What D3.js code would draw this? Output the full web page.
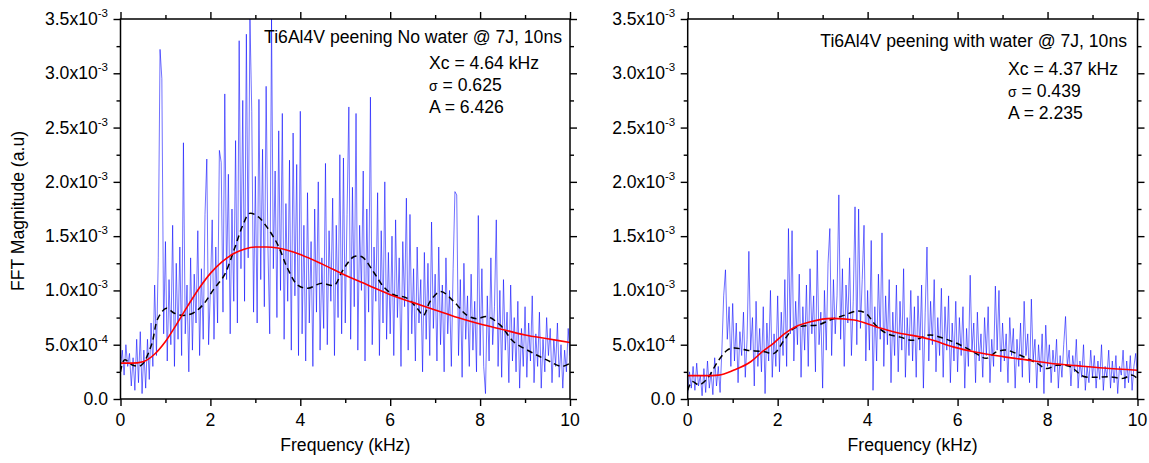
<!DOCTYPE html>
<html><head><meta charset="utf-8">
<script src="https://cdn.jsdelivr.net/npm/d3@7"></script>
<style>body{margin:0;background:#fff} text{font-family:Arial,"Liberation Sans",sans-serif;fill:#000}</style>
</head><body><svg id="c" width="1149" height="463"></svg>
<script>
// FFT magnitudes in units of 1e-3, sampled every freqStep kHz from 0 to 10 kHz
const freqStep = 0.04;
const leftFFT = [
0.30,0.45,0.22,0.50,0.30,0.42,0.12,0.38,0.08,0.55,0.15,0.62,0.05,0.45,0.10,0.55,0.18,0.70,0.30,1.05,0.40,1.30,3.22,2.95,0.60,
1.45,0.35,1.10,0.50,1.60,0.30,1.25,0.55,1.40,0.40,2.36,0.60,1.05,0.25,1.30,0.45,1.15,0.70,1.55,0.40,1.20,0.55,1.70,2.21,0.50,
1.00,1.65,0.55,1.40,0.70,2.29,2.18,0.80,2.81,1.10,2.07,0.60,1.75,0.90,2.38,0.70,3.30,1.20,2.75,0.90,3.36,1.30,3.50,2.65,0.80,
2.05,0.70,2.76,1.10,2.30,0.85,2.88,1.40,0.60,3.50,1.20,2.10,0.75,2.47,1.00,2.63,0.55,1.80,0.90,2.20,0.45,2.45,0.95,2.16,0.40,
2.65,0.60,1.60,0.35,1.90,0.70,1.45,0.30,1.75,0.80,2.00,0.45,1.30,0.65,2.17,0.50,1.55,0.90,1.85,0.40,1.60,0.75,2.25,0.60,2.22,
0.70,1.70,2.69,0.55,1.95,0.85,2.63,0.45,1.60,1.00,2.10,0.35,1.75,0.80,2.78,0.50,1.40,0.90,1.90,0.40,1.55,0.70,2.00,0.55,1.35,
0.60,1.50,0.40,1.65,0.75,1.30,0.30,1.45,0.85,1.85,0.45,1.70,0.60,1.20,0.35,1.40,0.70,1.10,0.25,1.35,0.55,1.25,0.40,1.63,0.65,
1.15,0.35,1.40,0.50,1.05,0.25,1.30,0.60,1.00,0.30,1.20,1.91,1.88,0.40,1.10,0.20,1.25,0.55,0.95,0.30,1.15,0.45,0.90,0.25,1.69,
0.40,1.20,0.30,0.05,0.95,0.35,1.30,0.50,0.85,1.65,0.30,1.00,0.20,1.10,0.45,0.80,0.15,1.05,0.35,0.75,0.25,0.90,0.10,0.65,0.30,
0.85,0.20,0.70,0.35,0.95,0.15,0.60,0.30,0.80,0.10,0.55,0.25,0.75,0.40,0.65,0.15,0.55,0.30,0.70,0.20,0.50,0.10,0.45,0.25,0.65,
0.40];
const rightFFT = [
0.05,0.25,0.10,0.30,0.08,0.33,0.12,0.22,0.03,0.28,0.06,0.35,0.10,0.25,0.04,0.38,0.12,0.30,0.06,0.45,0.95,1.19,0.55,0.85,0.30,
0.88,0.35,0.70,0.15,0.62,0.40,0.80,0.20,0.55,1.36,0.45,0.75,0.12,0.90,0.30,0.65,0.25,0.85,0.05,0.70,0.35,1.00,0.20,0.60,0.30,
0.95,0.25,0.80,0.40,1.10,0.30,1.57,0.60,1.55,0.35,0.90,0.50,1.15,0.20,0.85,0.45,1.05,0.30,1.20,0.60,0.95,0.25,1.37,0.50,0.80,
0.10,1.00,0.45,1.25,1.57,0.40,1.10,0.60,0.95,1.88,0.55,1.20,0.30,1.05,0.70,1.30,0.40,0.90,1.77,0.50,1.75,0.65,1.10,1.60,0.35,
1.00,0.45,1.46,0.08,0.85,0.35,1.15,0.55,1.53,0.30,0.95,0.50,1.10,0.15,0.80,0.40,1.05,0.25,0.90,0.45,1.20,0.20,0.75,0.40,1.00,
0.35,0.85,0.20,0.95,0.45,1.05,0.10,0.80,1.40,0.35,0.90,0.50,1.10,0.25,0.75,0.40,1.02,0.20,0.85,0.45,0.95,0.15,0.70,0.35,0.90,
0.25,0.75,0.40,0.85,0.10,0.65,0.30,1.14,0.45,0.70,0.15,0.80,0.35,0.60,0.20,0.75,0.40,0.85,0.15,0.55,0.30,1.04,0.45,1.00,0.25,
0.70,0.35,0.60,0.15,0.75,0.40,0.65,0.10,0.55,0.30,0.70,0.20,0.90,0.40,0.60,0.15,0.92,0.35,0.55,0.10,0.50,0.25,0.60,0.05,0.68,
0.30,0.50,0.15,0.45,0.25,0.55,0.10,0.40,0.20,0.50,0.76,0.30,0.45,0.12,0.40,0.25,0.55,0.10,0.35,0.20,0.50,0.08,0.30,0.15,0.45,
0.20,0.40,0.10,0.35,0.18,0.50,0.08,0.30,0.20,0.45,0.10,0.35,0.15,0.40,0.05,0.30,0.22,0.45,0.10,0.35,0.15,0.40,0.08,0.30,0.42,
0.20];
// Smoothed (dashed black) curves: frequency (kHz) and magnitude (1e-3)
const leftSmoothX = [0,0.09,0.28,0.46,0.69,0.83,1.02,1.20,1.39,1.61,1.83,2.09,2.31,2.54,2.72,2.87,3.06,3.28,3.50,3.72,3.94,4.17,4.46,4.76,4.91,5.05,5.19,5.37,5.63,5.86,6.08,6.37,6.60,6.74,6.89,7.12,7.41,7.71,7.93,8.15,8.45,8.74,9.12,9.48,9.82,10.0];
const leftSmoothY = [0.25,0.36,0.31,0.31,0.50,0.74,0.835,0.79,0.77,0.79,0.865,1.02,1.14,1.39,1.60,1.71,1.68,1.57,1.42,1.20,1.05,1.02,1.065,1.05,1.16,1.25,1.31,1.31,1.17,1.03,0.96,0.93,0.835,0.77,0.90,0.99,0.90,0.77,0.74,0.76,0.68,0.53,0.435,0.36,0.30,0.33];
const rightSmoothX = [0,0.10,0.25,0.44,0.66,0.88,1.03,1.32,1.70,1.92,2.14,2.36,2.62,2.88,3.18,3.47,3.77,3.96,4.18,4.44,4.73,4.99,5.16,5.38,5.68,6.05,6.35,6.64,6.87,7.09,7.38,7.76,7.98,8.20,8.50,8.79,9.09,9.38,9.68,9.87,10.0];
const rightSmoothY = [0.08,0.16,0.13,0.19,0.34,0.45,0.47,0.45,0.435,0.42,0.54,0.65,0.675,0.68,0.73,0.77,0.81,0.79,0.68,0.60,0.57,0.54,0.56,0.59,0.56,0.50,0.435,0.375,0.435,0.45,0.405,0.33,0.28,0.31,0.30,0.21,0.20,0.205,0.19,0.22,0.19];
// Fit (red) curves: frequency (kHz) and magnitude (1e-3)
const leftFitX = [0,0.25,0.5,0.75,1.0,1.25,1.5,1.75,2.0,2.25,2.5,2.75,3.0,3.25,3.5,3.75,4.0,4.5,5.0,5.5,6.0,6.5,7.0,7.5,8.0,8.5,9.0,9.5,10.0];
const leftFitY = [0.33,0.33,0.344,0.41,0.53,0.69,0.86,1.02,1.157,1.26,1.335,1.38,1.40,1.40,1.39,1.365,1.33,1.24,1.14,1.05,0.96,0.89,0.82,0.75,0.69,0.64,0.59,0.555,0.52];
const rightFitX = [0,0.4,0.69,1.03,1.40,1.66,1.92,2.14,2.40,2.73,3.21,3.70,4.18,4.66,4.99,5.38,5.90,6.42,7.01,7.53,8.05,8.64,9.24,10.0];
const rightFitY = [0.215,0.215,0.22,0.267,0.343,0.436,0.518,0.598,0.666,0.712,0.743,0.727,0.666,0.61,0.586,0.55,0.48,0.43,0.39,0.36,0.33,0.307,0.285,0.265];

const yTickValues = [0,0.5,1.0,1.5,2.0,2.5,3.0,3.5];
const yTickMantissa = ["0.0","5.0x10","1.0x10","1.5x10","2.0x10","2.5x10","3.0x10","3.5x10"];
const yTickExponent = ["","-4","-3","-3","-3","-3","-3","-3"];
const yMinorValues = [0.25,0.75,1.25,1.75,2.25,2.75,3.25];
const xTickValues = [0,2,4,6,8,10];
const xMinorValues = [1,3,5,7,9];
const panelTitles = ["Ti6Al4V peening No water @ 7J, 10ns","Ti6Al4V peening with water @ 7J, 10ns"];
const fitSymbols = [["Xc"," σ","A"],["Xc","σ","A"]];
const fitLabels = [["Xc = 4.64 kHz","σ = 0.625","A = 6.426"],["Xc = 4.37 kHz","σ = 0.439","A = 2.235"]];

const svg = d3.select("#c");
const plotTop = 19, plotBottom = 399;
const panels = [
  {x0:120.5, x1:570, fft:leftFFT, sx:leftSmoothX, sy:leftSmoothY, fx:leftFitX, fy:leftFitY,
   titleX:562, titleY:43, statX:429, statY:[68.5,91,112.5]},
  {x0:687.7, x1:1137.5, fft:rightFFT, sx:rightSmoothX, sy:rightSmoothY, fx:rightFitX, fy:rightFitY,
   titleX:1127, titleY:46.5, statX:1008, statY:[75,96.7,118.5]}
];
const FS = 17.6;

panels.forEach((p, i) => {
  const x = d3.scaleLinear().domain([0,10]).range([p.x0, p.x1]);
  const y = d3.scaleLinear().domain([0,3.5]).range([plotBottom, plotTop]);
  const g = svg.append("g");
  const clipId = "clip" + i;
  svg.append("clipPath").attr("id", clipId).append("rect")
    .attr("x", p.x0).attr("y", plotTop).attr("width", p.x1 - p.x0).attr("height", plotBottom - plotTop);
  const plot = g.append("g").attr("clip-path", `url(#${clipId})`);

  const fftLine = d3.line().x((d, k) => x(k * freqStep)).y(d => y(d));
  plot.append("path").datum(p.fft).attr("d", fftLine)
    .attr("fill","none").attr("stroke","#0000ff").attr("stroke-width",0.8).attr("stroke-opacity",0.7);

  const pairLine = d3.line().x(d => x(d[0])).y(d => y(d[1]));
  plot.append("path").datum(d3.zip(p.sx, p.sy)).attr("d", pairLine.curve(d3.curveCatmullRom.alpha(0.5)))
    .attr("fill","none").attr("stroke","#000").attr("stroke-width",1.5).attr("stroke-dasharray","6,4");
  plot.append("path").datum(d3.zip(p.fx, p.fy)).attr("d", d3.line().x(d => x(d[0])).y(d => y(d[1])).curve(d3.curveMonotoneX))
    .attr("fill","none").attr("stroke","#ff0000").attr("stroke-width",1.6);

  const axStyle = sel => { sel.select(".domain").remove(); sel.selectAll("line").attr("stroke","#000").attr("stroke-width",1.4); sel.selectAll("text").remove(); };
  g.append("g").attr("transform",`translate(0,${plotBottom})`).call(d3.axisBottom(x).tickValues(xTickValues).tickSize(7).tickFormat("")).call(axStyle);
  g.append("g").attr("transform",`translate(0,${plotBottom})`).call(d3.axisBottom(x).tickValues(xMinorValues).tickSize(4).tickFormat("")).call(axStyle);
  g.append("g").attr("transform",`translate(0,${plotTop})`).call(d3.axisTop(x).tickValues(xTickValues).tickSize(7).tickFormat("")).call(axStyle);
  g.append("g").attr("transform",`translate(0,${plotTop})`).call(d3.axisTop(x).tickValues(xMinorValues).tickSize(4).tickFormat("")).call(axStyle);
  g.append("g").attr("transform",`translate(${p.x0},0)`).call(d3.axisLeft(y).tickValues(yTickValues).tickSize(7).tickFormat("")).call(axStyle);
  g.append("g").attr("transform",`translate(${p.x0},0)`).call(d3.axisLeft(y).tickValues(yMinorValues).tickSize(4).tickFormat("")).call(axStyle);
  g.append("g").attr("transform",`translate(${p.x1},0)`).call(d3.axisRight(y).tickValues(yTickValues).tickSize(7).tickFormat("")).call(axStyle);
  g.append("g").attr("transform",`translate(${p.x1},0)`).call(d3.axisRight(y).tickValues(yMinorValues).tickSize(4).tickFormat("")).call(axStyle);
  g.append("rect").attr("x",p.x0).attr("y",plotTop).attr("width",p.x1-p.x0).attr("height",plotBottom-plotTop)
    .attr("fill","none").attr("stroke","#000").attr("stroke-width",1.5);

  xTickValues.forEach(v => {
    g.append("text").attr("x", x(v)).attr("y", 426).attr("text-anchor","middle").attr("font-size",FS).text(v);
  });
  yTickValues.forEach((v, k) => {
    const t = g.append("text").attr("x", p.x0 - 12.5).attr("y", y(v) + 6).attr("text-anchor","end").attr("font-size",FS);
    t.append("tspan").text(yTickMantissa[k]);
    if (yTickExponent[k]) t.append("tspan").attr("font-size",11.5).attr("dy",-8).text(yTickExponent[k]);
  });
  g.append("text").attr("x",(p.x0+p.x1)/2).attr("y",451).attr("text-anchor","middle").attr("font-size",FS).text("Frequency (kHz)");

  g.append("text").attr("x",p.titleX).attr("y",p.titleY).attr("text-anchor","end").attr("font-size",FS).text(panelTitles[i]);
  fitLabels[i].forEach((s, k) => {
    const t = g.append("text").attr("x",p.statX).attr("y",p.statY[k]).attr("font-size",FS);
    if (s.startsWith("σ")) {
      t.append("tspan").attr("font-size",14).text("σ");
      t.append("tspan").text(s.slice(1));
    } else t.text(s);
  });
});

svg.append("text").attr("transform","translate(24,211) rotate(-90)").attr("text-anchor","middle").attr("font-size",FS).text("FFT Magnitude (a.u)");
</script></body></html>
